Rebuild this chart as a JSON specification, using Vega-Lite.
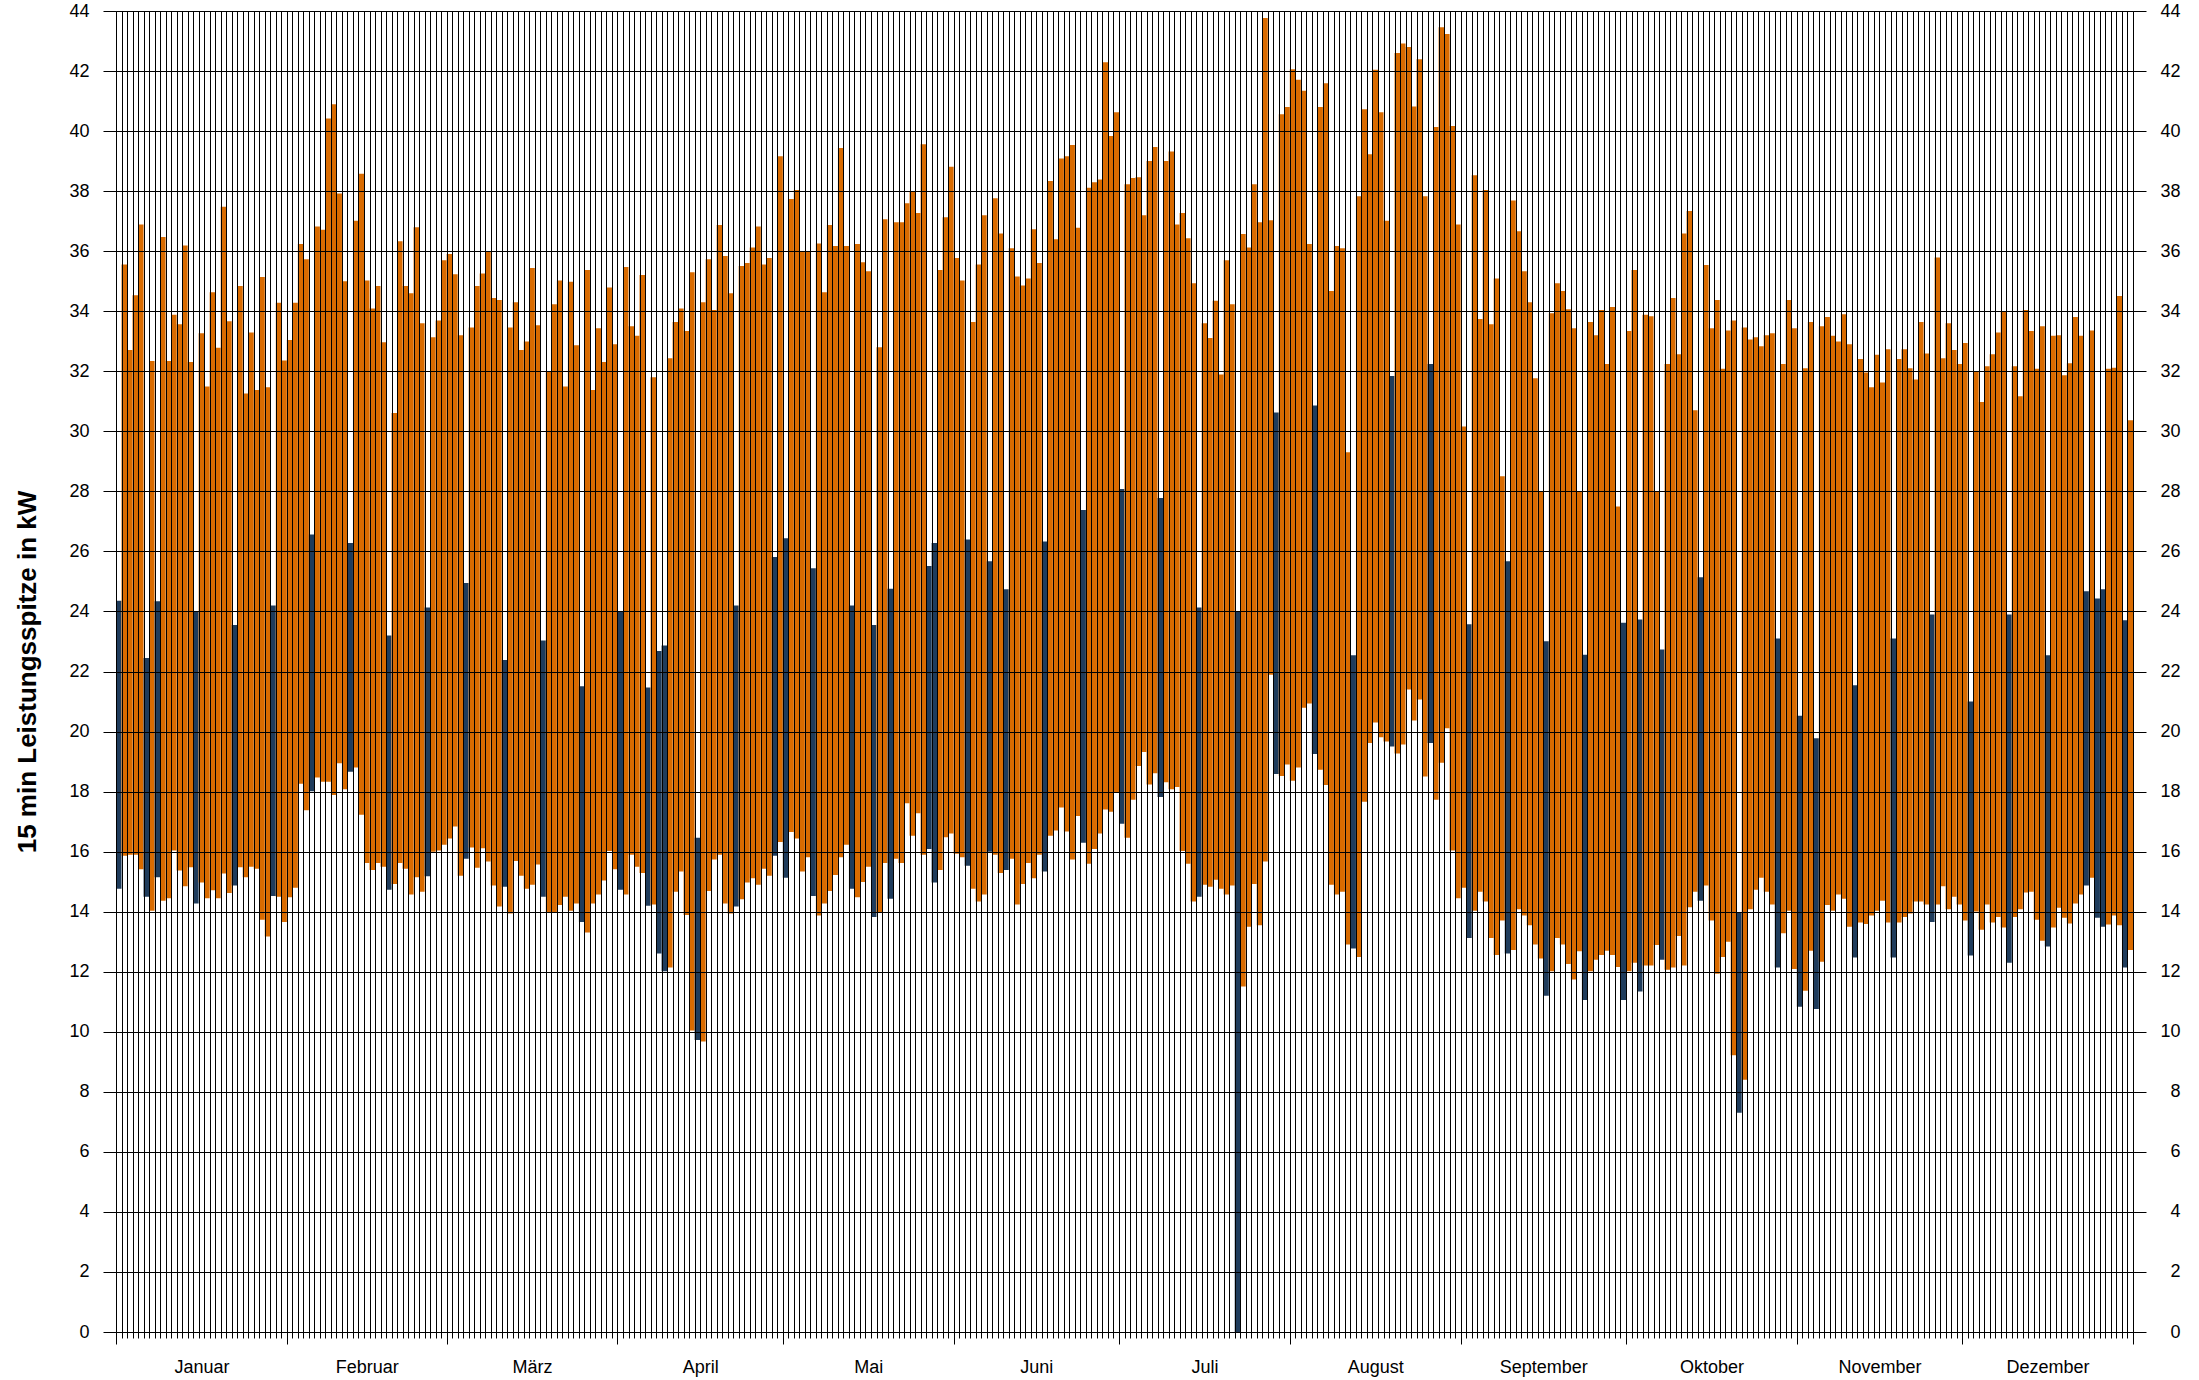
{
"$schema":"https://vega.github.io/schema/vega-lite/v6.json",
"width":2017,"height":1321,
"autosize":{"type":"none"},
"padding":{"left":116,"top":11,"right":66,"bottom":48},
"background":"white",
"config":{"view":{"stroke":null},"font":"Liberation Sans","axis":{"labelFont":"Liberation Sans","titleFont":"Liberation Sans","labelColor":"#000","titleColor":"#000"}},
"datasets":{"tage":[
{"datum":"2012-01-01","min":14.76,"max":24.36,"typ":"S"},
{"datum":"2012-01-02","min":15.86,"max":35.56,"typ":"W"},
{"datum":"2012-01-03","min":15.9,"max":32.71,"typ":"W"},
{"datum":"2012-01-04","min":15.9,"max":34.53,"typ":"W"},
{"datum":"2012-01-05","min":15.41,"max":36.89,"typ":"W"},
{"datum":"2012-01-06","min":14.5,"max":22.45,"typ":"S"},
{"datum":"2012-01-07","min":14.03,"max":32.34,"typ":"W"},
{"datum":"2012-01-08","min":15.15,"max":24.34,"typ":"S"},
{"datum":"2012-01-09","min":14.36,"max":36.47,"typ":"W"},
{"datum":"2012-01-10","min":14.45,"max":32.34,"typ":"W"},
{"datum":"2012-01-11","min":16.04,"max":33.88,"typ":"W"},
{"datum":"2012-01-12","min":15.37,"max":33.57,"typ":"W"},
{"datum":"2012-01-13","min":14.85,"max":36.19,"typ":"W"},
{"datum":"2012-01-14","min":15.48,"max":32.31,"typ":"W"},
{"datum":"2012-01-15","min":14.27,"max":24.01,"typ":"S"},
{"datum":"2012-01-16","min":14.97,"max":33.27,"typ":"W"},
{"datum":"2012-01-17","min":14.45,"max":31.49,"typ":"W"},
{"datum":"2012-01-18","min":14.71,"max":34.63,"typ":"W"},
{"datum":"2012-01-19","min":14.45,"max":32.78,"typ":"W"},
{"datum":"2012-01-20","min":15.27,"max":37.48,"typ":"W"},
{"datum":"2012-01-21","min":14.62,"max":33.67,"typ":"W"},
{"datum":"2012-01-22","min":14.87,"max":23.55,"typ":"S"},
{"datum":"2012-01-23","min":15.48,"max":34.84,"typ":"W"},
{"datum":"2012-01-24","min":15.15,"max":31.26,"typ":"W"},
{"datum":"2012-01-25","min":15.5,"max":33.29,"typ":"W"},
{"datum":"2012-01-26","min":15.43,"max":31.38,"typ":"W"},
{"datum":"2012-01-27","min":13.73,"max":35.14,"typ":"W"},
{"datum":"2012-01-28","min":13.17,"max":31.47,"typ":"W"},
{"datum":"2012-01-29","min":14.52,"max":24.2,"typ":"S"},
{"datum":"2012-01-30","min":14.5,"max":34.28,"typ":"W"},
{"datum":"2012-01-31","min":13.66,"max":32.36,"typ":"W"},
{"datum":"2012-02-01","min":14.48,"max":33.04,"typ":"W"},
{"datum":"2012-02-02","min":14.8,"max":34.28,"typ":"W"},
{"datum":"2012-02-03","min":18.26,"max":36.24,"typ":"W"},
{"datum":"2012-02-04","min":17.38,"max":35.73,"typ":"W"},
{"datum":"2012-02-05","min":18.01,"max":26.56,"typ":"S"},
{"datum":"2012-02-06","min":18.47,"max":36.82,"typ":"W"},
{"datum":"2012-02-07","min":18.33,"max":36.71,"typ":"W"},
{"datum":"2012-02-08","min":18.33,"max":40.42,"typ":"W"},
{"datum":"2012-02-09","min":17.89,"max":40.89,"typ":"W"},
{"datum":"2012-02-10","min":18.94,"max":37.92,"typ":"W"},
{"datum":"2012-02-11","min":18.08,"max":35.0,"typ":"W"},
{"datum":"2012-02-12","min":18.66,"max":26.28,"typ":"S"},
{"datum":"2012-02-13","min":18.8,"max":37.01,"typ":"W"},
{"datum":"2012-02-14","min":17.23,"max":38.58,"typ":"W"},
{"datum":"2012-02-15","min":15.62,"max":35.02,"typ":"W"},
{"datum":"2012-02-16","min":15.39,"max":34.09,"typ":"W"},
{"datum":"2012-02-17","min":15.62,"max":34.84,"typ":"W"},
{"datum":"2012-02-18","min":15.5,"max":32.97,"typ":"W"},
{"datum":"2012-02-19","min":14.73,"max":23.2,"typ":"S"},
{"datum":"2012-02-20","min":14.92,"max":30.61,"typ":"W"},
{"datum":"2012-02-21","min":15.62,"max":36.33,"typ":"W"},
{"datum":"2012-02-22","min":15.43,"max":34.84,"typ":"W"},
{"datum":"2012-02-23","min":14.57,"max":34.6,"typ":"W"},
{"datum":"2012-02-24","min":15.15,"max":36.8,"typ":"W"},
{"datum":"2012-02-25","min":14.66,"max":33.6,"typ":"W"},
{"datum":"2012-02-26","min":15.18,"max":24.13,"typ":"S"},
{"datum":"2012-02-27","min":16.0,"max":33.13,"typ":"W"},
{"datum":"2012-02-28","min":16.04,"max":33.69,"typ":"W"},
{"datum":"2012-02-29","min":16.23,"max":35.7,"typ":"W"},
{"datum":"2012-03-01","min":16.44,"max":35.91,"typ":"W"},
{"datum":"2012-03-02","min":16.84,"max":35.23,"typ":"W"},
{"datum":"2012-03-03","min":15.2,"max":33.2,"typ":"W"},
{"datum":"2012-03-04","min":15.76,"max":24.95,"typ":"S"},
{"datum":"2012-03-05","min":16.14,"max":33.46,"typ":"W"},
{"datum":"2012-03-06","min":15.46,"max":34.84,"typ":"W"},
{"datum":"2012-03-07","min":16.11,"max":35.26,"typ":"W"},
{"datum":"2012-03-08","min":15.67,"max":35.98,"typ":"W"},
{"datum":"2012-03-09","min":14.87,"max":34.44,"typ":"W"},
{"datum":"2012-03-10","min":14.17,"max":34.37,"typ":"W"},
{"datum":"2012-03-11","min":14.83,"max":22.38,"typ":"S"},
{"datum":"2012-03-12","min":13.94,"max":33.46,"typ":"W"},
{"datum":"2012-03-13","min":15.69,"max":34.3,"typ":"W"},
{"datum":"2012-03-14","min":15.2,"max":32.71,"typ":"W"},
{"datum":"2012-03-15","min":14.76,"max":32.99,"typ":"W"},
{"datum":"2012-03-16","min":14.9,"max":35.44,"typ":"W"},
{"datum":"2012-03-17","min":15.57,"max":33.53,"typ":"W"},
{"datum":"2012-03-18","min":14.5,"max":23.03,"typ":"S"},
{"datum":"2012-03-19","min":13.99,"max":31.99,"typ":"W"},
{"datum":"2012-03-20","min":13.99,"max":34.23,"typ":"W"},
{"datum":"2012-03-21","min":14.22,"max":35.02,"typ":"W"},
{"datum":"2012-03-22","min":14.5,"max":31.49,"typ":"W"},
{"datum":"2012-03-23","min":14.03,"max":34.98,"typ":"W"},
{"datum":"2012-03-24","min":14.27,"max":32.87,"typ":"W"},
{"datum":"2012-03-25","min":13.66,"max":21.51,"typ":"S"},
{"datum":"2012-03-26","min":13.31,"max":35.37,"typ":"W"},
{"datum":"2012-03-27","min":14.27,"max":31.38,"typ":"W"},
{"datum":"2012-03-28","min":14.57,"max":33.43,"typ":"W"},
{"datum":"2012-03-29","min":15.04,"max":32.31,"typ":"W"},
{"datum":"2012-03-30","min":16.02,"max":34.79,"typ":"W"},
{"datum":"2012-03-31","min":15.41,"max":32.9,"typ":"W"},
{"datum":"2012-04-01","min":14.73,"max":24.0,"typ":"S"},
{"datum":"2012-04-02","min":14.57,"max":35.47,"typ":"W"},
{"datum":"2012-04-03","min":15.9,"max":33.5,"typ":"W"},
{"datum":"2012-04-04","min":15.5,"max":33.18,"typ":"W"},
{"datum":"2012-04-05","min":15.29,"max":35.21,"typ":"W"},
{"datum":"2012-04-06","min":14.2,"max":21.47,"typ":"S"},
{"datum":"2012-04-07","min":14.24,"max":31.8,"typ":"W"},
{"datum":"2012-04-08","min":12.61,"max":22.68,"typ":"S"},
{"datum":"2012-04-09","min":12.02,"max":22.87,"typ":"S"},
{"datum":"2012-04-10","min":12.14,"max":32.43,"typ":"W"},
{"datum":"2012-04-11","min":14.66,"max":33.64,"typ":"W"},
{"datum":"2012-04-12","min":15.34,"max":34.09,"typ":"W"},
{"datum":"2012-04-13","min":13.89,"max":33.34,"typ":"W"},
{"datum":"2012-04-14","min":10.04,"max":35.3,"typ":"W"},
{"datum":"2012-04-15","min":9.73,"max":16.46,"typ":"S"},
{"datum":"2012-04-16","min":9.68,"max":34.3,"typ":"W"},
{"datum":"2012-04-17","min":14.69,"max":35.73,"typ":"W"},
{"datum":"2012-04-18","min":15.74,"max":34.04,"typ":"W"},
{"datum":"2012-04-19","min":15.9,"max":36.87,"typ":"W"},
{"datum":"2012-04-20","min":14.27,"max":35.84,"typ":"W"},
{"datum":"2012-04-21","min":13.94,"max":34.6,"typ":"W"},
{"datum":"2012-04-22","min":14.17,"max":24.2,"typ":"S"},
{"datum":"2012-04-23","min":14.41,"max":35.51,"typ":"W"},
{"datum":"2012-04-24","min":14.97,"max":35.61,"typ":"W"},
{"datum":"2012-04-25","min":15.11,"max":36.12,"typ":"W"},
{"datum":"2012-04-26","min":14.9,"max":36.82,"typ":"W"},
{"datum":"2012-04-27","min":15.43,"max":35.56,"typ":"W"},
{"datum":"2012-04-28","min":15.2,"max":35.77,"typ":"W"},
{"datum":"2012-04-29","min":15.86,"max":25.81,"typ":"S"},
{"datum":"2012-04-30","min":16.32,"max":39.16,"typ":"W"},
{"datum":"2012-05-01","min":15.13,"max":26.44,"typ":"S"},
{"datum":"2012-05-02","min":16.65,"max":37.74,"typ":"W"},
{"datum":"2012-05-03","min":16.44,"max":38.04,"typ":"W"},
{"datum":"2012-05-04","min":15.34,"max":35.98,"typ":"W"},
{"datum":"2012-05-05","min":15.81,"max":35.98,"typ":"W"},
{"datum":"2012-05-06","min":14.52,"max":25.44,"typ":"S"},
{"datum":"2012-05-07","min":13.87,"max":36.26,"typ":"W"},
{"datum":"2012-05-08","min":14.27,"max":34.63,"typ":"W"},
{"datum":"2012-05-09","min":14.69,"max":36.87,"typ":"W"},
{"datum":"2012-05-10","min":15.22,"max":36.17,"typ":"W"},
{"datum":"2012-05-11","min":15.81,"max":39.44,"typ":"W"},
{"datum":"2012-05-12","min":16.23,"max":36.17,"typ":"W"},
{"datum":"2012-05-13","min":14.76,"max":24.2,"typ":"S"},
{"datum":"2012-05-14","min":14.48,"max":36.24,"typ":"W"},
{"datum":"2012-05-15","min":14.99,"max":35.63,"typ":"W"},
{"datum":"2012-05-16","min":15.5,"max":35.33,"typ":"W"},
{"datum":"2012-05-17","min":13.82,"max":23.55,"typ":"S"},
{"datum":"2012-05-18","min":13.99,"max":32.8,"typ":"W"},
{"datum":"2012-05-19","min":15.62,"max":37.06,"typ":"W"},
{"datum":"2012-05-20","min":14.43,"max":24.76,"typ":"S"},
{"datum":"2012-05-21","min":15.76,"max":36.96,"typ":"W"},
{"datum":"2012-05-22","min":15.62,"max":36.96,"typ":"W"},
{"datum":"2012-05-23","min":17.61,"max":37.6,"typ":"W"},
{"datum":"2012-05-24","min":16.53,"max":37.99,"typ":"W"},
{"datum":"2012-05-25","min":17.28,"max":37.27,"typ":"W"},
{"datum":"2012-05-26","min":15.9,"max":39.56,"typ":"W"},
{"datum":"2012-05-27","min":16.09,"max":25.51,"typ":"S"},
{"datum":"2012-05-28","min":14.97,"max":26.28,"typ":"S"},
{"datum":"2012-05-29","min":15.39,"max":35.37,"typ":"W"},
{"datum":"2012-05-30","min":16.48,"max":37.13,"typ":"W"},
{"datum":"2012-05-31","min":16.6,"max":38.81,"typ":"W"},
{"datum":"2012-06-01","min":15.93,"max":35.77,"typ":"W"},
{"datum":"2012-06-02","min":15.81,"max":35.02,"typ":"W"},
{"datum":"2012-06-03","min":15.53,"max":26.4,"typ":"S"},
{"datum":"2012-06-04","min":14.76,"max":33.64,"typ":"W"},
{"datum":"2012-06-05","min":14.34,"max":35.56,"typ":"W"},
{"datum":"2012-06-06","min":14.57,"max":37.2,"typ":"W"},
{"datum":"2012-06-07","min":16.0,"max":25.67,"typ":"S"},
{"datum":"2012-06-08","min":15.9,"max":37.76,"typ":"W"},
{"datum":"2012-06-09","min":15.29,"max":36.59,"typ":"W"},
{"datum":"2012-06-10","min":15.39,"max":24.74,"typ":"S"},
{"datum":"2012-06-11","min":15.76,"max":36.1,"typ":"W"},
{"datum":"2012-06-12","min":14.24,"max":35.16,"typ":"W"},
{"datum":"2012-06-13","min":14.92,"max":34.86,"typ":"W"},
{"datum":"2012-06-14","min":15.62,"max":35.09,"typ":"W"},
{"datum":"2012-06-15","min":15.11,"max":36.73,"typ":"W"},
{"datum":"2012-06-16","min":15.9,"max":35.61,"typ":"W"},
{"datum":"2012-06-17","min":15.34,"max":26.33,"typ":"S"},
{"datum":"2012-06-18","min":16.53,"max":38.34,"typ":"W"},
{"datum":"2012-06-19","min":16.7,"max":36.4,"typ":"W"},
{"datum":"2012-06-20","min":17.47,"max":39.09,"typ":"W"},
{"datum":"2012-06-21","min":16.67,"max":39.16,"typ":"W"},
{"datum":"2012-06-22","min":15.74,"max":39.54,"typ":"W"},
{"datum":"2012-06-23","min":17.19,"max":36.78,"typ":"W"},
{"datum":"2012-06-24","min":16.3,"max":27.38,"typ":"S"},
{"datum":"2012-06-25","min":15.6,"max":38.11,"typ":"W"},
{"datum":"2012-06-26","min":16.09,"max":38.3,"typ":"W"},
{"datum":"2012-06-27","min":16.6,"max":38.39,"typ":"W"},
{"datum":"2012-06-28","min":17.4,"max":42.29,"typ":"W"},
{"datum":"2012-06-29","min":17.33,"max":39.84,"typ":"W"},
{"datum":"2012-06-30","min":17.96,"max":40.63,"typ":"W"},
{"datum":"2012-07-01","min":16.93,"max":28.08,"typ":"S"},
{"datum":"2012-07-02","min":16.46,"max":38.23,"typ":"W"},
{"datum":"2012-07-03","min":17.73,"max":38.44,"typ":"W"},
{"datum":"2012-07-04","min":18.85,"max":38.46,"typ":"W"},
{"datum":"2012-07-05","min":19.32,"max":37.2,"typ":"W"},
{"datum":"2012-07-06","min":18.24,"max":39.0,"typ":"W"},
{"datum":"2012-07-07","min":18.61,"max":39.47,"typ":"W"},
{"datum":"2012-07-08","min":17.82,"max":27.78,"typ":"S"},
{"datum":"2012-07-09","min":18.31,"max":39.0,"typ":"W"},
{"datum":"2012-07-10","min":18.08,"max":39.32,"typ":"W"},
{"datum":"2012-07-11","min":18.15,"max":36.89,"typ":"W"},
{"datum":"2012-07-12","min":16.02,"max":37.27,"typ":"W"},
{"datum":"2012-07-13","min":15.6,"max":36.43,"typ":"W"},
{"datum":"2012-07-14","min":14.34,"max":34.93,"typ":"W"},
{"datum":"2012-07-15","min":14.5,"max":24.13,"typ":"S"},
{"datum":"2012-07-16","min":14.9,"max":33.6,"typ":"W"},
{"datum":"2012-07-17","min":14.83,"max":33.11,"typ":"W"},
{"datum":"2012-07-18","min":15.06,"max":34.35,"typ":"W"},
{"datum":"2012-07-19","min":14.76,"max":31.89,"typ":"W"},
{"datum":"2012-07-20","min":14.57,"max":35.7,"typ":"W"},
{"datum":"2012-07-21","min":14.87,"max":34.23,"typ":"W"},
{"datum":"2012-07-22","min":0,"max":24.0,"typ":"S"},
{"datum":"2012-07-23","min":11.51,"max":36.57,"typ":"W"},
{"datum":"2012-07-24","min":13.5,"max":36.12,"typ":"W"},
{"datum":"2012-07-25","min":14.92,"max":38.23,"typ":"W"},
{"datum":"2012-07-26","min":13.55,"max":36.96,"typ":"W"},
{"datum":"2012-07-27","min":15.67,"max":43.77,"typ":"W"},
{"datum":"2012-07-28","min":21.89,"max":37.03,"typ":"W"},
{"datum":"2012-07-29","min":18.59,"max":30.63,"typ":"S"},
{"datum":"2012-07-30","min":18.52,"max":40.56,"typ":"W"},
{"datum":"2012-07-31","min":18.9,"max":40.8,"typ":"W"},
{"datum":"2012-08-01","min":18.36,"max":42.06,"typ":"W"},
{"datum":"2012-08-02","min":18.8,"max":41.71,"typ":"W"},
{"datum":"2012-08-03","min":20.79,"max":41.34,"typ":"W"},
{"datum":"2012-08-04","min":20.93,"max":36.24,"typ":"W"},
{"datum":"2012-08-05","min":19.25,"max":30.86,"typ":"S"},
{"datum":"2012-08-06","min":18.73,"max":40.8,"typ":"W"},
{"datum":"2012-08-07","min":18.22,"max":41.59,"typ":"W"},
{"datum":"2012-08-08","min":14.9,"max":34.67,"typ":"W"},
{"datum":"2012-08-09","min":14.57,"max":36.17,"typ":"W"},
{"datum":"2012-08-10","min":14.66,"max":36.1,"typ":"W"},
{"datum":"2012-08-11","min":12.91,"max":29.3,"typ":"W"},
{"datum":"2012-08-12","min":12.77,"max":22.54,"typ":"S"},
{"datum":"2012-08-13","min":12.49,"max":37.83,"typ":"W"},
{"datum":"2012-08-14","min":17.66,"max":40.73,"typ":"W"},
{"datum":"2012-08-15","min":19.62,"max":39.23,"typ":"W"},
{"datum":"2012-08-16","min":20.3,"max":42.04,"typ":"W"},
{"datum":"2012-08-17","min":19.81,"max":40.63,"typ":"W"},
{"datum":"2012-08-18","min":19.67,"max":37.01,"typ":"W"},
{"datum":"2012-08-19","min":19.5,"max":31.84,"typ":"S"},
{"datum":"2012-08-20","min":19.27,"max":42.6,"typ":"W"},
{"datum":"2012-08-21","min":19.57,"max":42.92,"typ":"W"},
{"datum":"2012-08-22","min":21.4,"max":42.8,"typ":"W"},
{"datum":"2012-08-23","min":20.37,"max":40.82,"typ":"W"},
{"datum":"2012-08-24","min":21.07,"max":42.39,"typ":"W"},
{"datum":"2012-08-25","min":18.5,"max":37.83,"typ":"W"},
{"datum":"2012-08-26","min":19.62,"max":32.24,"typ":"S"},
{"datum":"2012-08-27","min":17.73,"max":40.14,"typ":"W"},
{"datum":"2012-08-28","min":18.96,"max":43.46,"typ":"W"},
{"datum":"2012-08-29","min":20.11,"max":43.23,"typ":"W"},
{"datum":"2012-08-30","min":16.04,"max":40.17,"typ":"W"},
{"datum":"2012-08-31","min":14.45,"max":36.89,"typ":"W"},
{"datum":"2012-09-01","min":14.8,"max":30.16,"typ":"W"},
{"datum":"2012-09-02","min":13.12,"max":23.57,"typ":"S"},
{"datum":"2012-09-03","min":14.03,"max":38.53,"typ":"W"},
{"datum":"2012-09-04","min":14.66,"max":33.74,"typ":"W"},
{"datum":"2012-09-05","min":14.34,"max":38.04,"typ":"W"},
{"datum":"2012-09-06","min":13.12,"max":33.57,"typ":"W"},
{"datum":"2012-09-07","min":12.56,"max":35.09,"typ":"W"},
{"datum":"2012-09-08","min":13.71,"max":28.5,"typ":"W"},
{"datum":"2012-09-09","min":12.61,"max":25.67,"typ":"S"},
{"datum":"2012-09-10","min":12.72,"max":37.69,"typ":"W"},
{"datum":"2012-09-11","min":14.08,"max":36.66,"typ":"W"},
{"datum":"2012-09-12","min":13.87,"max":35.33,"typ":"W"},
{"datum":"2012-09-13","min":13.55,"max":34.3,"typ":"W"},
{"datum":"2012-09-14","min":12.91,"max":31.77,"typ":"W"},
{"datum":"2012-09-15","min":12.44,"max":28.0,"typ":"W"},
{"datum":"2012-09-16","min":11.2,"max":23.01,"typ":"S"},
{"datum":"2012-09-17","min":12.02,"max":33.93,"typ":"W"},
{"datum":"2012-09-18","min":13.12,"max":34.93,"typ":"W"},
{"datum":"2012-09-19","min":12.91,"max":34.67,"typ":"W"},
{"datum":"2012-09-20","min":12.26,"max":34.07,"typ":"W"},
{"datum":"2012-09-21","min":11.74,"max":33.43,"typ":"W"},
{"datum":"2012-09-22","min":12.68,"max":28.0,"typ":"W"},
{"datum":"2012-09-23","min":11.06,"max":22.56,"typ":"S"},
{"datum":"2012-09-24","min":12.02,"max":33.64,"typ":"W"},
{"datum":"2012-09-25","min":12.4,"max":33.2,"typ":"W"},
{"datum":"2012-09-26","min":12.56,"max":34.04,"typ":"W"},
{"datum":"2012-09-27","min":12.7,"max":32.24,"typ":"W"},
{"datum":"2012-09-28","min":12.56,"max":34.14,"typ":"W"},
{"datum":"2012-09-29","min":12.16,"max":27.5,"typ":"W"},
{"datum":"2012-09-30","min":11.06,"max":23.62,"typ":"S"},
{"datum":"2012-10-01","min":12.02,"max":33.34,"typ":"W"},
{"datum":"2012-10-02","min":12.3,"max":35.37,"typ":"W"},
{"datum":"2012-10-03","min":11.34,"max":23.73,"typ":"S"},
{"datum":"2012-10-04","min":12.21,"max":33.88,"typ":"W"},
{"datum":"2012-10-05","min":12.21,"max":33.83,"typ":"W"},
{"datum":"2012-10-06","min":12.89,"max":28.0,"typ":"W"},
{"datum":"2012-10-07","min":12.4,"max":22.73,"typ":"S"},
{"datum":"2012-10-08","min":12.07,"max":32.24,"typ":"W"},
{"datum":"2012-10-09","min":12.14,"max":34.44,"typ":"W"},
{"datum":"2012-10-10","min":13.19,"max":32.57,"typ":"W"},
{"datum":"2012-10-11","min":12.21,"max":36.59,"typ":"W"},
{"datum":"2012-10-12","min":14.15,"max":37.34,"typ":"W"},
{"datum":"2012-10-13","min":14.66,"max":30.7,"typ":"W"},
{"datum":"2012-10-14","min":14.36,"max":25.14,"typ":"S"},
{"datum":"2012-10-15","min":14.87,"max":35.54,"typ":"W"},
{"datum":"2012-10-16","min":13.71,"max":33.43,"typ":"W"},
{"datum":"2012-10-17","min":11.93,"max":34.37,"typ":"W"},
{"datum":"2012-10-18","min":12.49,"max":32.08,"typ":"W"},
{"datum":"2012-10-19","min":13.0,"max":33.36,"typ":"W"},
{"datum":"2012-10-20","min":9.22,"max":33.69,"typ":"W"},
{"datum":"2012-10-21","min":7.3,"max":13.96,"typ":"S"},
{"datum":"2012-10-22","min":8.4,"max":33.46,"typ":"W"},
{"datum":"2012-10-23","min":14.08,"max":33.06,"typ":"W"},
{"datum":"2012-10-24","min":14.73,"max":33.13,"typ":"W"},
{"datum":"2012-10-25","min":15.13,"max":32.83,"typ":"W"},
{"datum":"2012-10-26","min":14.66,"max":33.2,"typ":"W"},
{"datum":"2012-10-27","min":14.24,"max":33.27,"typ":"W"},
{"datum":"2012-10-28","min":12.14,"max":23.1,"typ":"S"},
{"datum":"2012-10-29","min":13.28,"max":32.24,"typ":"W"},
{"datum":"2012-10-30","min":14.03,"max":34.37,"typ":"W"},
{"datum":"2012-10-31","min":12.09,"max":33.43,"typ":"W"},
{"datum":"2012-11-01","min":10.83,"max":20.53,"typ":"S"},
{"datum":"2012-11-02","min":11.37,"max":32.1,"typ":"W"},
{"datum":"2012-11-03","min":12.7,"max":33.64,"typ":"W"},
{"datum":"2012-11-04","min":10.76,"max":19.78,"typ":"S"},
{"datum":"2012-11-05","min":12.33,"max":33.5,"typ":"W"},
{"datum":"2012-11-06","min":14.22,"max":33.81,"typ":"W"},
{"datum":"2012-11-07","min":14.03,"max":33.18,"typ":"W"},
{"datum":"2012-11-08","min":14.57,"max":32.99,"typ":"W"},
{"datum":"2012-11-09","min":14.43,"max":33.9,"typ":"W"},
{"datum":"2012-11-10","min":13.5,"max":32.9,"typ":"W"},
{"datum":"2012-11-11","min":12.47,"max":21.54,"typ":"S"},
{"datum":"2012-11-12","min":13.64,"max":32.41,"typ":"W"},
{"datum":"2012-11-13","min":13.59,"max":31.96,"typ":"W"},
{"datum":"2012-11-14","min":13.87,"max":31.47,"typ":"W"},
{"datum":"2012-11-15","min":14.03,"max":32.55,"typ":"W"},
{"datum":"2012-11-16","min":14.36,"max":31.63,"typ":"W"},
{"datum":"2012-11-17","min":13.64,"max":32.73,"typ":"W"},
{"datum":"2012-11-18","min":12.47,"max":23.1,"typ":"S"},
{"datum":"2012-11-19","min":13.64,"max":32.41,"typ":"W"},
{"datum":"2012-11-20","min":13.82,"max":32.73,"typ":"W"},
{"datum":"2012-11-21","min":13.94,"max":32.1,"typ":"W"},
{"datum":"2012-11-22","min":14.34,"max":31.73,"typ":"W"},
{"datum":"2012-11-23","min":14.34,"max":33.64,"typ":"W"},
{"datum":"2012-11-24","min":14.24,"max":32.59,"typ":"W"},
{"datum":"2012-11-25","min":13.66,"max":23.9,"typ":"S"},
{"datum":"2012-11-26","min":14.24,"max":35.79,"typ":"W"},
{"datum":"2012-11-27","min":14.85,"max":32.43,"typ":"W"},
{"datum":"2012-11-28","min":14.08,"max":33.6,"typ":"W"},
{"datum":"2012-11-29","min":14.5,"max":32.71,"typ":"W"},
{"datum":"2012-11-30","min":14.24,"max":32.24,"typ":"W"},
{"datum":"2012-12-01","min":13.71,"max":32.94,"typ":"W"},
{"datum":"2012-12-02","min":12.54,"max":21.0,"typ":"S"},
{"datum":"2012-12-03","min":14.01,"max":32.01,"typ":"W"},
{"datum":"2012-12-04","min":13.4,"max":30.98,"typ":"W"},
{"datum":"2012-12-05","min":14.24,"max":32.17,"typ":"W"},
{"datum":"2012-12-06","min":13.64,"max":32.57,"typ":"W"},
{"datum":"2012-12-07","min":13.82,"max":33.29,"typ":"W"},
{"datum":"2012-12-08","min":13.47,"max":33.99,"typ":"W"},
{"datum":"2012-12-09","min":12.3,"max":23.9,"typ":"S"},
{"datum":"2012-12-10","min":13.82,"max":32.17,"typ":"W"},
{"datum":"2012-12-11","min":14.08,"max":31.17,"typ":"W"},
{"datum":"2012-12-12","min":14.64,"max":34.04,"typ":"W"},
{"datum":"2012-12-13","min":14.66,"max":33.34,"typ":"W"},
{"datum":"2012-12-14","min":13.73,"max":32.08,"typ":"W"},
{"datum":"2012-12-15","min":13.03,"max":33.5,"typ":"W"},
{"datum":"2012-12-16","min":12.84,"max":22.54,"typ":"S"},
{"datum":"2012-12-17","min":13.47,"max":33.18,"typ":"W"},
{"datum":"2012-12-18","min":14.13,"max":33.2,"typ":"W"},
{"datum":"2012-12-19","min":13.8,"max":31.87,"typ":"W"},
{"datum":"2012-12-20","min":13.61,"max":32.27,"typ":"W"},
{"datum":"2012-12-21","min":14.27,"max":33.81,"typ":"W"},
{"datum":"2012-12-22","min":14.57,"max":33.18,"typ":"W"},
{"datum":"2012-12-23","min":14.87,"max":24.67,"typ":"S"},
{"datum":"2012-12-24","min":15.13,"max":33.36,"typ":"W"},
{"datum":"2012-12-25","min":13.8,"max":24.43,"typ":"S"},
{"datum":"2012-12-26","min":13.5,"max":24.74,"typ":"S"},
{"datum":"2012-12-27","min":13.57,"max":32.08,"typ":"W"},
{"datum":"2012-12-28","min":13.87,"max":32.12,"typ":"W"},
{"datum":"2012-12-29","min":13.55,"max":34.51,"typ":"W"},
{"datum":"2012-12-30","min":12.14,"max":23.71,"typ":"S"},
{"datum":"2012-12-31","min":12.72,"max":30.37,"typ":"W"}
]},
"layer":[
{"data":{"name":"tage"},"mark":{"type":"bar"},
"encoding":{
"x":{"field":"datum","type":"ordinal","scale":{"paddingInner":0,"paddingOuter":0},
"axis":{"orient":"bottom","title":null,"labels":false,"domain":false,"tickBand":"extent","ticks":true,"tickSize":6,"tickColor":"#000","tickWidth":1,"grid":true,"gridColor":"#000","gridWidth":1,"gridOpacity":1,"zindex":1}},
"y":{"field":"min","type":"quantitative","scale":{"domain":[0,44],"nice":false,"zero":true},
"axis":{"orient":"left","values":[0,2,4,6,8,10,12,14,16,18,20,22,24,26,28,30,32,34,36,38,40,42,44],"title":"15 min Leistungsspitze in kW","titleFontSize":26,"titleFontWeight":"bold","titlePadding":28,"labelFontSize":18,"labelPadding":14,"tickSize":13,"tickColor":"#000","tickWidth":1,"domainColor":"#000","domainWidth":1,"grid":true,"gridColor":"#000","gridWidth":1,"gridOpacity":1,"zindex":1}},
"y2":{"field":"max"},
"color":{"field":"typ","type":"nominal","scale":{"domain":["W","S"],"range":["#D96B00","#1F3C5C"]},"legend":null}
}},
{"data":{"name":"tage"},"mark":{"type":"point","opacity":0},
"encoding":{
"y":{"field":"max","type":"quantitative","scale":{"domain":[0,44],"nice":false,"zero":true},
"axis":{"orient":"right","values":[0,2,4,6,8,10,12,14,16,18,20,22,24,26,28,30,32,34,36,38,40,42,44],"title":null,"labelFontSize":18,"labelAlign":"right","labelPadding":34,"tickSize":13,"tickColor":"#000","tickWidth":1,"domainColor":"#000","domainWidth":1,"grid":false,"zindex":1}}
}},
{"data":{"name":"tage"},"mark":{"type":"point","opacity":0},
"encoding":{
"x":{"field":"datum","type":"temporal","scale":{"type":"utc","domain":[{"year":2012,"month":1,"date":1,"utc":true},{"year":2013,"month":1,"date":1,"utc":true}]},
"axis":{"orient":"bottom","title":null,"labels":false,"domain":false,"grid":false,"ticks":true,"tickSize":12,"tickColor":"#000","tickWidth":1,"zindex":1,
"values":[{"year":2012,"month":1,"date":1,"utc":true},{"year":2012,"month":2,"date":1,"utc":true},{"year":2012,"month":3,"date":1,"utc":true},{"year":2012,"month":4,"date":1,"utc":true},{"year":2012,"month":5,"date":1,"utc":true},{"year":2012,"month":6,"date":1,"utc":true},{"year":2012,"month":7,"date":1,"utc":true},{"year":2012,"month":8,"date":1,"utc":true},{"year":2012,"month":9,"date":1,"utc":true},{"year":2012,"month":10,"date":1,"utc":true},{"year":2012,"month":11,"date":1,"utc":true},{"year":2012,"month":12,"date":1,"utc":true},{"year":2013,"month":1,"date":1,"utc":true}]}}
}},
{"data":{"name":"tage"},"mark":{"type":"point","opacity":0},
"encoding":{
"x":{"field":"datum","type":"temporal","scale":{"type":"utc","domain":[{"year":2012,"month":1,"date":1,"utc":true},{"year":2013,"month":1,"date":1,"utc":true}]},
"axis":{"orient":"bottom","title":null,"labels":true,"domain":false,"grid":false,"ticks":false,"tickSize":0,"labelFontSize":18,"labelPadding":26,"labelOverlap":false,"labelFlush":false,"labelAlign":"center",
"labelExpr":"['Januar','Februar','März','April','Mai','Juni','Juli','August','September','Oktober','November','Dezember'][utcmonth(datum.value)]",
"values":[{"year":2012,"month":1,"date":16,"hours":12,"utc":true},{"year":2012,"month":2,"date":15,"hours":12,"utc":true},{"year":2012,"month":3,"date":16,"hours":12,"utc":true},{"year":2012,"month":4,"date":16,"utc":true},{"year":2012,"month":5,"date":16,"hours":12,"utc":true},{"year":2012,"month":6,"date":16,"utc":true},{"year":2012,"month":7,"date":16,"hours":12,"utc":true},{"year":2012,"month":8,"date":16,"hours":12,"utc":true},{"year":2012,"month":9,"date":16,"utc":true},{"year":2012,"month":10,"date":16,"hours":12,"utc":true},{"year":2012,"month":11,"date":16,"utc":true},{"year":2012,"month":12,"date":16,"hours":12,"utc":true}]}}
}}
],
"resolve":{"scale":{"x":"independent","y":"independent"},"axis":{"x":"independent","y":"independent"}}
}
